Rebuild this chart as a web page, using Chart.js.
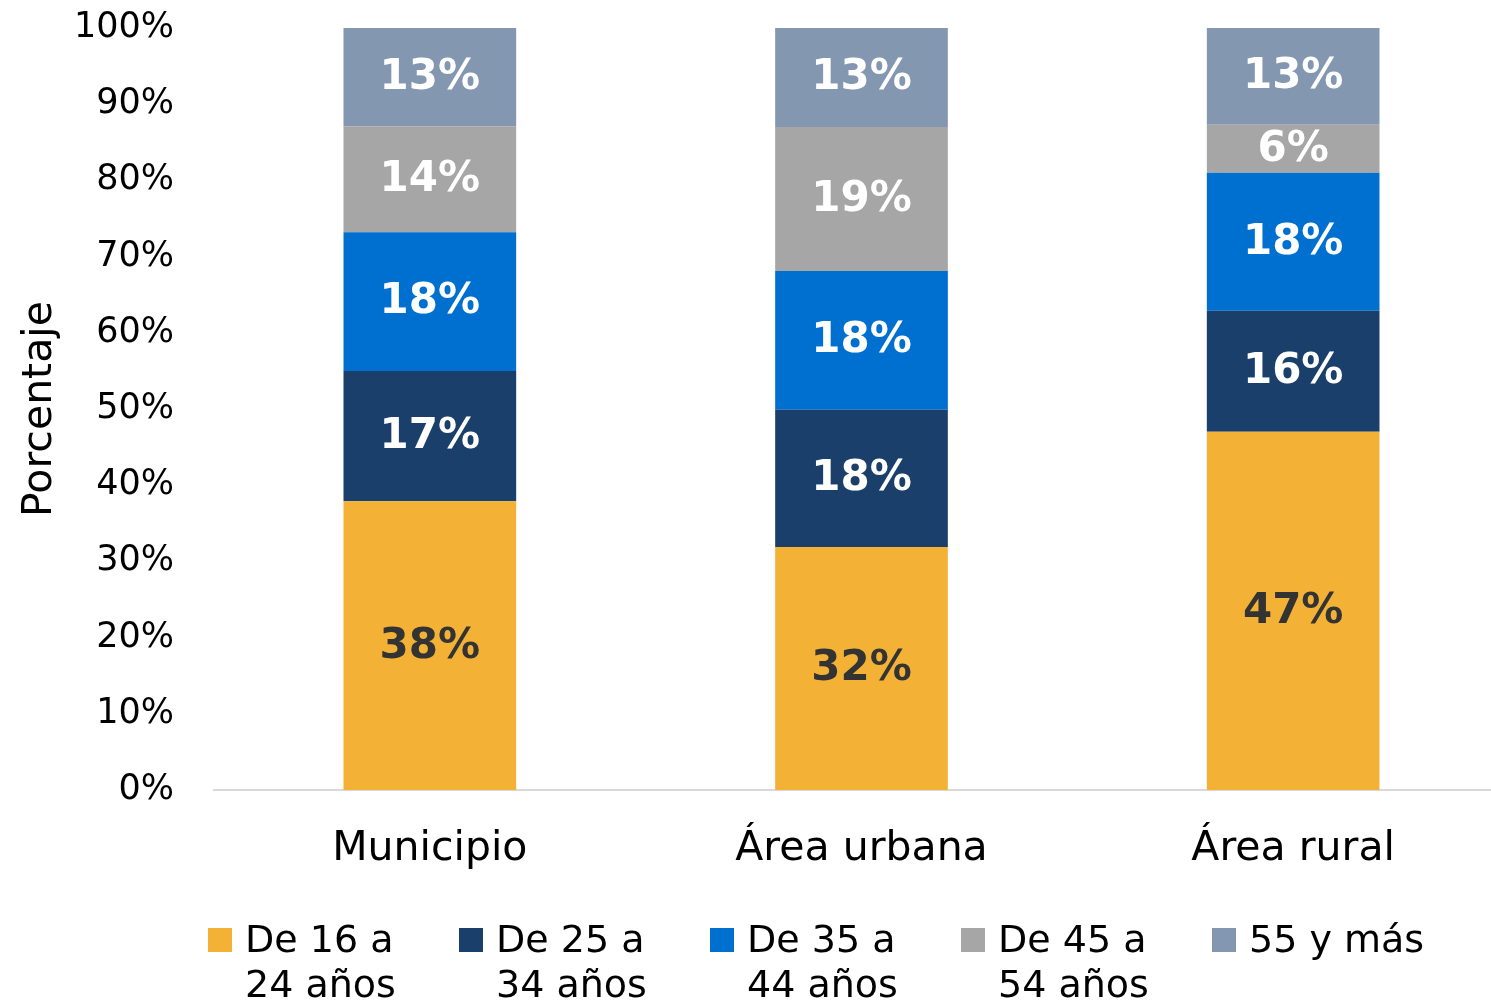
<!DOCTYPE html>
<html>
<head>
<meta charset="utf-8">
<script src="https://cdn.jsdelivr.net/npm/chart.js@4/dist/chart.umd.min.js"></script>
<style>
  html, body { margin: 0; padding: 0; background: #fff; overflow: hidden; width: 1491px; height: 1006px; }
  #wrap { position: absolute; left: 0; top: 0; width: 1509px; height: 1006px; }
  #legend { position: absolute; left: 208px; top: 917px; display: flex; font-family: 'DejaVu Sans', sans-serif; font-size: 38px; line-height: 45px; color: #000; }
  .item { width: 251px; display: flex; align-items: flex-start; }
  .box { width: 24px; height: 24px; margin-top: 11px; margin-right: 13px; flex: none; }
  .txt { white-space: pre-line; }
</style>
</head>
<body>
<div id="wrap"><canvas id="c"></canvas></div>
<div id="legend"></div>
<script>
const categories = ['Municipio', 'Área urbana', 'Área rural'];
const seriesNames = ['De 16 a\n24 años', 'De 25 a\n34 años', 'De 35 a\n44 años', 'De 45 a\n54 años', '55 y más'];
const age16_24 = [37.9, 31.9, 47.0];
const age25_34 = [17.1, 18.0, 15.9];
const age35_44 = [18.2, 18.2, 18.1];
const age45_54 = [13.9, 18.9, 6.3];
const age55plus = [12.9, 13.0, 12.7];
const yTicks = [0, 10, 20, 30, 40, 50, 60, 70, 80, 90, 100];

const colors = ['#F3B236', '#1B3F6B', '#0070D0', '#A6A6A6', '#8497B0'];
const labelColors = ['#333333', '#ffffff', '#ffffff', '#ffffff', '#ffffff'];
const seriesValues = [age16_24, age25_34, age35_44, age45_54, age55plus];
const FONT = "'DejaVu Sans', sans-serif";

const datasets = seriesValues.map((vals, i) => ({
  label: seriesNames[i].replace('\n', ' '),
  data: vals,
  backgroundColor: colors[i],
  borderWidth: 0,
  barPercentage: 0.4,
  categoryPercentage: 1.0
}));

const labelPlugin = {
  id: 'segLabels',
  afterDatasetsDraw(chart) {
    const ctx = chart.ctx;
    ctx.save();
    ctx.font = 'bold 42px ' + FONT;
    ctx.textAlign = 'center';
    ctx.textBaseline = 'middle';
    chart.data.datasets.forEach((ds, di) => {
      const meta = chart.getDatasetMeta(di);
      meta.data.forEach((bar, j) => {
        const p = bar.getProps(['x', 'y', 'base'], true);
        ctx.fillStyle = labelColors[di];
        ctx.fillText(Math.round(ds.data[j]) + '%', p.x, (p.y + p.base) / 2 + 1);
      });
    });
    ctx.restore();
  }
};

new Chart(document.getElementById('c'), {
  type: 'bar',
  data: { labels: categories, datasets },
  options: {
    responsive: true,
    maintainAspectRatio: false,
    animation: false,
    layout: { padding: { top: 28, left: 0, right: 0, bottom: 0 } },
    plugins: { legend: { display: false }, tooltip: { enabled: false } },
    scales: {
      x: {
        stacked: true,
        grid: { display: true, drawOnChartArea: false, drawTicks: false },
        border: { display: true, color: '#D9D9D9', width: 2 },
        ticks: { color: '#000', font: { family: FONT, size: 41 }, padding: 35 },
        afterFit(scale) { scale.height = 216; scale.paddingLeft = 0; scale.paddingRight = 0; }
      },
      y: {
        stacked: true,
        min: 0, max: 100,
        afterBuildTicks(scale) { scale.ticks = yTicks.map(v => ({ value: v })); },
        grid: { display: false },
        border: { display: false },
        ticks: { color: '#000', font: { family: FONT, size: 35 }, padding: 32, callback: v => v + '%' },
        title: { display: true, text: 'Porcentaje', color: '#000', font: { family: FONT, size: 41 }, padding: { top: 16, bottom: 0 } },
        afterFit(scale) { scale.width = 214; scale.paddingTop = 0; scale.paddingBottom = 0; }
      }
    }
  },
  plugins: [labelPlugin]
});

const legend = document.getElementById('legend');
seriesNames.forEach((name, i) => {
  const it = document.createElement('div'); it.className = 'item';
  const b = document.createElement('div'); b.className = 'box'; b.style.background = colors[i];
  const t = document.createElement('div'); t.className = 'txt'; t.textContent = name;
  it.appendChild(b); it.appendChild(t); legend.appendChild(it);
});
</script>
</body>
</html>
